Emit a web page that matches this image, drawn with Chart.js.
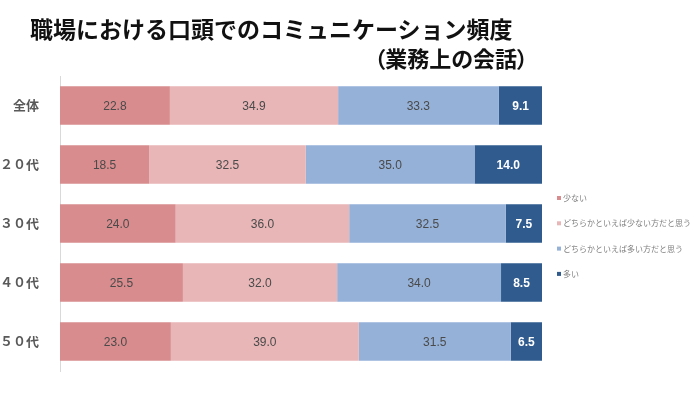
<!DOCTYPE html>
<html>
<head>
<meta charset="utf-8">
<script src="https://cdn.jsdelivr.net/npm/chart.js@4"></script>
<style>
  body { margin: 0; background: #fff; }
  #wrap { position: relative; width: 700px; height: 393px; }
  .ttl { position: absolute; font-family: "Noto Sans CJK JP", sans-serif; font-weight: bold;
         color: #111; white-space: nowrap; line-height: 24px; }
  #t1 { left: 30px; top: 16px; font-size: 23px; }
  #t2 { right: 172px; top: 45px; font-size: 22px; font-feature-settings: "palt"; }
</style>
</head>
<body>
<div id="wrap">
  <canvas id="chart" width="700" height="393"></canvas>
  <div class="ttl" id="t1">職場における口頭でのコミュニケーション頻度</div>
  <div class="ttl" id="t2">（業務上の会話）</div>
</div>
<script>
// ages
const categories = ['全体', '２０代', '３０代', '４０代', '５０代'];
const seriesNames = ['少ない', 'どちらかといえば少ない方だと思う', 'どちらかといえば多い方だと思う', '多い'];
const few       = [22.8, 18.5, 24.0, 25.5, 23.0];
const ratherFew = [34.9, 32.5, 36.0, 32.0, 39.0];
const ratherMany= [33.3, 35.0, 32.5, 34.0, 31.5];
const many      = [9.1, 14.0, 7.5, 8.5, 6.5];
const colors = ['#d98c8e', '#e8b6b7', '#95b1d8', '#2f5b8f'];

const series = [few, ratherFew, ratherMany, many];

// value labels inside each segment
const barLabels = {
  id: 'barLabels',
  afterDatasetsDraw(chart) {
    const ctx = chart.ctx;
    ctx.save();
    ctx.textAlign = 'center';
    ctx.textBaseline = 'middle';
    chart.data.datasets.forEach((ds, i) => {
      const last = i === chart.data.datasets.length - 1;
      ctx.font = (last ? 'bold ' : '') + '12px "Liberation Sans", Arial, sans-serif';
      ctx.fillStyle = last ? '#ffffff' : '#4a4a4a';
      chart.getDatasetMeta(i).data.forEach((bar, j) => {
        const p = bar.getProps(['x', 'y', 'base'], true);
        ctx.fillText(ds.data[j].toFixed(1), (p.x + p.base) / 2, p.y + 1);
      });
    });
    ctx.restore();
  }
};

// small legend on the right
const sideLegend = {
  id: 'sideLegend',
  afterDraw(chart) {
    const ctx = chart.ctx;
    ctx.save();
    ctx.font = '8px "Noto Sans CJK JP", sans-serif';
    ctx.textBaseline = 'middle';
    chart.data.datasets.forEach((ds, i) => {
      const y = 198 + i * 25.3;
      ctx.fillStyle = ds.backgroundColor;
      ctx.fillRect(557, y - 2, 4, 4);
      ctx.fillStyle = '#808080';
      ctx.fillText(ds.label, 563, y);
    });
    ctx.restore();
  }
};

new Chart(document.getElementById('chart'), {
  type: 'bar',
  data: {
    labels: categories,
    datasets: seriesNames.map((name, i) => ({
      label: name,
      data: series[i],
      backgroundColor: colors[i],
      borderWidth: 0,
      categoryPercentage: 0.65,
      barPercentage: 1
    }))
  },
  options: {
    indexAxis: 'y',
    responsive: false,
    animation: false,
    layout: { padding: { top: 76, bottom: 22, left: 0, right: 158 } },
    scales: {
      x: { stacked: true, min: 0, max: 100, display: false },
      y: {
        stacked: true,
        grid: { display: false },
        border: { display: true, color: '#d9d9d9', width: 1 },
        ticks: {
          color: '#595959',
          padding: 13,
          font: { family: '"Noto Sans CJK JP", sans-serif', size: 13, weight: 'bold' }
        },
        afterFit(scale) { scale.width = 60; }
      }
    },
    plugins: {
      legend: { display: false },
      tooltip: { enabled: false }
    }
  },
  plugins: [barLabels, sideLegend]
});
</script>
</body>
</html>
